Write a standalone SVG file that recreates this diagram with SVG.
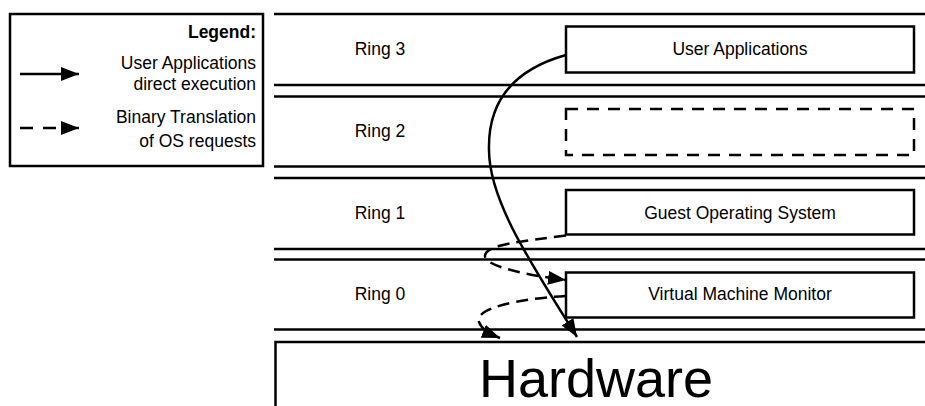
<svg xmlns="http://www.w3.org/2000/svg" width="925" height="406" viewBox="0 0 925 406">
<style>
text{font-family:"Liberation Sans",Arial,Helvetica,sans-serif;fill:#000}
.t{font-size:17.5px}
.c{text-anchor:middle}
.r{text-anchor:end}
.ln{stroke:#000;stroke-width:2.5;fill:none}
.box{stroke:#000;stroke-width:2.5;fill:#fff}
.dash{stroke-dasharray:12 9}
.cd{stroke-dasharray:12 7}
.ld{stroke-dasharray:13 10}
</style>
<defs>
<marker id="ah" viewBox="0 0 18 14" refX="18" refY="7" markerWidth="18" markerHeight="14" markerUnits="userSpaceOnUse" orient="auto">
<path d="M0,0 L18,7 L0,14 Z" fill="#000"/>
</marker>
</defs>
<g id="legend">
<rect class="box" x="10" y="14" width="253" height="152"/>
<text class="t r" x="256" y="38" font-weight="bold">Legend:</text>
<text class="t r" x="256" y="69">User Applications</text>
<text class="t r" x="256" y="90">direct execution</text>
<text class="t r" x="256" y="123">Binary Translation</text>
<text class="t r" x="256" y="147">of OS requests</text>
<line class="ln" x1="20" y1="74" x2="79" y2="74" marker-end="url(#ah)"/>
<line class="ln ld" x1="20" y1="128" x2="79" y2="128" marker-end="url(#ah)"/>
</g>
<g id="rings">
<line class="ln" x1="274" y1="14" x2="925" y2="14"/>
<line class="ln" x1="274" y1="85" x2="925" y2="85"/>
<line class="ln" x1="274" y1="96.5" x2="925" y2="96.5"/>
<line class="ln" x1="274" y1="166.5" x2="925" y2="166.5"/>
<line class="ln" x1="274" y1="178" x2="925" y2="178"/>
<line class="ln" x1="274" y1="249" x2="925" y2="249"/>
<line class="ln" x1="274" y1="259.5" x2="925" y2="259.5"/>
<line class="ln" x1="274" y1="329.5" x2="925" y2="329.5"/>
<text class="t c" x="380" y="55">Ring 3</text>
<text class="t c" x="380" y="137">Ring 2</text>
<text class="t c" x="380" y="219">Ring 1</text>
<text class="t c" x="380" y="300">Ring 0</text>
</g>
<g id="user-applications">
<rect class="box" x="566" y="26.5" width="348" height="46"/>
<text class="t c" x="740" y="55">User Applications</text>
</g>
<g id="ring2-empty">
<rect class="box dash" x="566" y="109" width="348" height="46"/>
</g>
<g id="guest-os">
<rect class="box" x="566" y="190" width="348" height="44.5"/>
<text class="t c" x="740" y="219">Guest Operating System</text>
</g>
<g id="vmm">
<rect class="box" x="566" y="272.5" width="348" height="45"/>
<text class="t c" x="740" y="300">Virtual Machine Monitor</text>
</g>
<g id="hardware">
<rect class="box" x="275.5" y="342" width="660" height="80"/>
<text class="c" x="596" y="397" font-size="54">Hardware</text>
</g>
<g id="connectors">
<path class="ln" d="M566,55 C505,72 488,110 489,150 C489,200 530,262 577,337" marker-end="url(#ah)"/>
<path class="ln cd" d="M566,235.5 C525,241 485,244 485,256 C485,266 525,275 566,280" marker-end="url(#ah)"/>
<path class="ln cd" d="M566,296 C515,299 474,309 479,322 C482,330 490,334 500,338" marker-end="url(#ah)"/>
</g>
</svg>
